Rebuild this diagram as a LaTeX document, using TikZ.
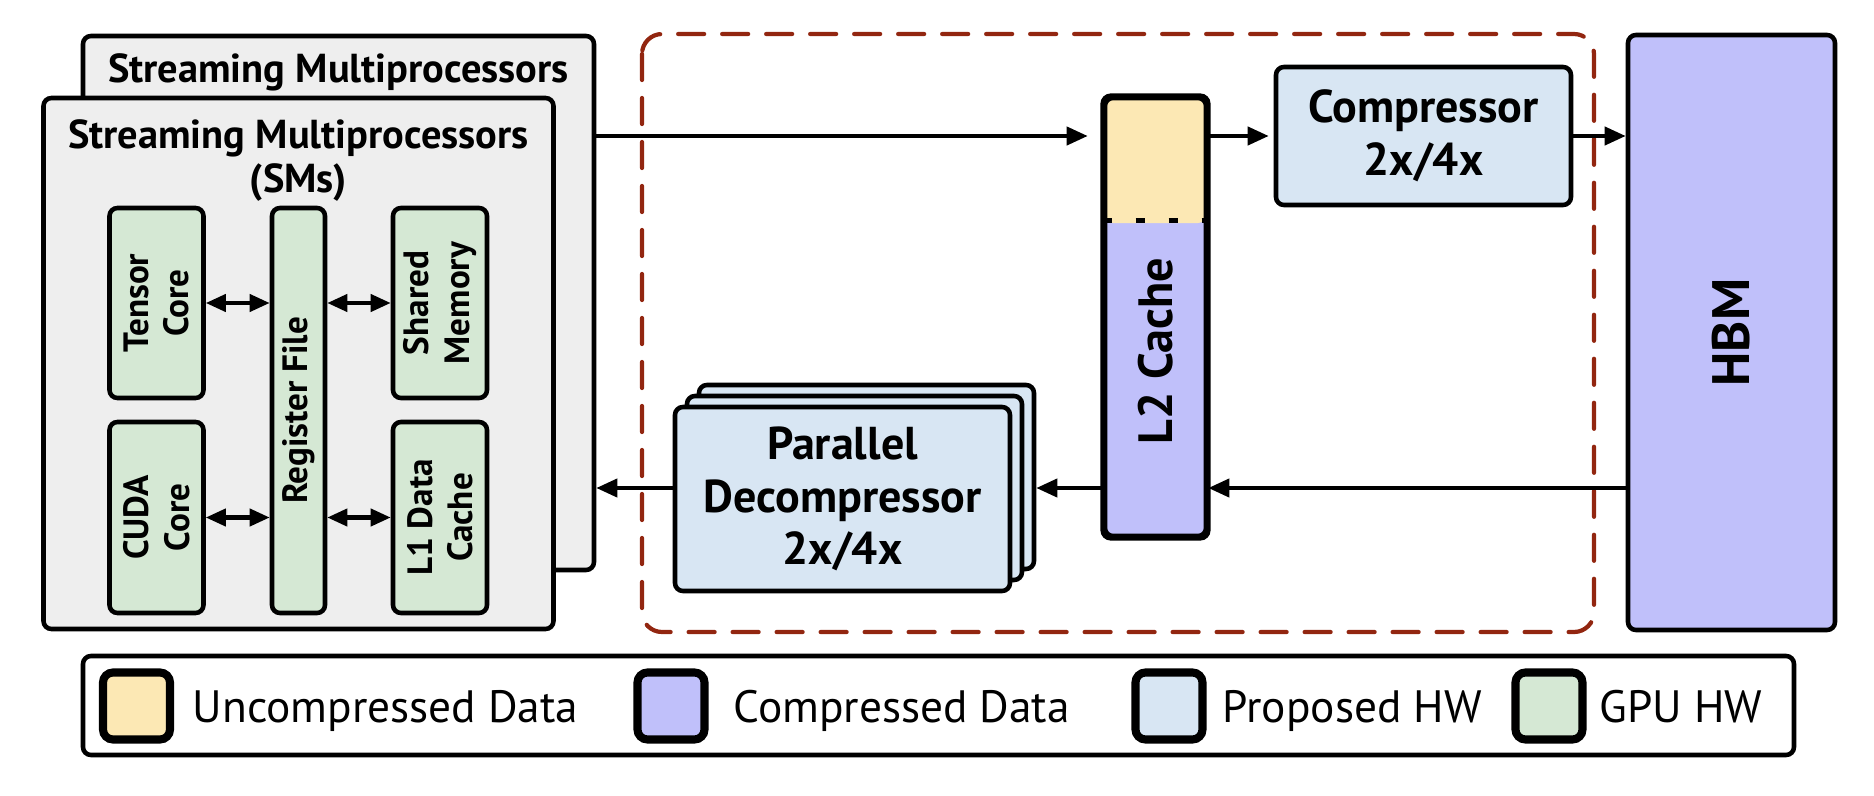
\documentclass[tikz,border=0pt]{standalone}
\usepackage{fontspec}
\setmainfont{PT Sans}
\usetikzlibrary{arrows.meta}
\definecolor{smgray}{RGB}{238,238,238}
\definecolor{gpugreen}{RGB}{213,232,212}
\definecolor{propblue}{RGB}{216,230,243}
\definecolor{uncompyellow}{RGB}{252,232,180}
\definecolor{comppurple}{RGB}{192,192,250}
\definecolor{framered}{RGB}{146,38,16}
\tikzset{
  hwbox/.style={draw, line width=1.3pt, rounded corners=0.8mm, inner sep=0pt, align=center},
  smbox/.style={hwbox, fill=smgray},
  gpuhw/.style={hwbox, fill=gpugreen},
  prophw/.style={hwbox, fill=propblue, font=\bfseries\fontsize{13.1}{15}\selectfont},
  compdata/.style={hwbox, fill=comppurple},
  smtitle/.style={inner sep=0pt, align=center, font=\bfseries\fontsize{11.5}{12.6}\selectfont},
  vlabel/.style={rotate=90, inner sep=0pt, align=center, font=\bfseries\fontsize{10}{11.5}\selectfont},
  swatch/.style={draw, line width=2.3pt, rounded corners=1mm, minimum size=6.7mm, inner sep=0pt},
  legendtext/.style={anchor=base west, inner sep=0pt, font=\fontsize{12.9}{15}\selectfont},
  link/.style={line width=1.15pt, -{Triangle[length=2.1mm,width=1.8mm]}},
  duplex/.style={line width=1.15pt, {Triangle[length=2mm,width=1.7mm]}-{Triangle[length=2mm,width=1.7mm]}},
  sectionframe/.style={draw=framered, line width=1.2pt, dash pattern=on 2.6mm off 1.8mm, line cap=round, rounded corners=2mm},
  splitline/.style={line width=1.3pt, dash pattern=on 0.9mm off 2.4mm}
}

\begin{document}
\begin{tikzpicture}[x=0.1mm, y=-0.1mm]
  \useasboundingbox (0,0) rectangle (1874,796);
  \draw[sectionframe] (642,34) rectangle (1594,632);

  \node[smbox, minimum width=51.1mm, minimum height=53.4mm] (smback) at (338.5,303) {};
  \node[smtitle, anchor=base] at (338.5,82) {Streaming Multiprocessors};
  \node[smbox, minimum width=51mm, minimum height=53.1mm] (smfront) at (298.5,363.5) {};
  \node[smtitle, anchor=north] at (298.5,119) {Streaming Multiprocessors\\(SMs)};

  \node[gpuhw, minimum width=9.4mm, minimum height=19mm] (tensor) at (156.5,303) {};
  \node[gpuhw, minimum width=5.3mm, minimum height=40.5mm] (regfile) at (298.5,410.5) {};
  \node[gpuhw, minimum width=9.4mm, minimum height=19mm] (shmem) at (440,303) {};
  \node[gpuhw, minimum width=9.4mm, minimum height=19.1mm] (cuda) at (156.5,517.5) {};
  \node[gpuhw, minimum width=9.4mm, minimum height=19.1mm] (lone) at (440,517.5) {};
  \node[vlabel] at (tensor) {Tensor\\Core};
  \node[vlabel] at (regfile) {Register File};
  \node[vlabel] at (shmem) {Shared\\Memory};
  \node[vlabel] at (cuda) {CUDA\\Core};
  \node[vlabel] at (lone) {L1 Data\\Cache};
  \draw[duplex] (tensor.east) -- (regfile.west |- tensor.east);
  \draw[duplex] (regfile.east |- shmem.west) -- (shmem.west);
  \draw[duplex] (cuda.east) -- (regfile.west |- cuda.east);
  \draw[duplex] (regfile.east |- lone.west) -- (lone.west);

  \node[compdata, minimum width=10.1mm, minimum height=43.8mm,
    path picture={\fill[uncompyellow] (path picture bounding box.north west) rectangle ([yshift=-12.5mm]path picture bounding box.north east);}] (ltwo) at (1155.5,317) {};
  \draw[splitline] ([yshift=-12.5mm]ltwo.north west) -- ([yshift=-12.5mm]ltwo.north east);
  \draw[line width=1.3pt, rounded corners=0.8mm] (ltwo.north west) rectangle (ltwo.south east);
  \node[vlabel, font=\bfseries\fontsize{13.7}{15}\selectfont] at (1155.5,351) {L2 Cache};

  \node[prophw, minimum width=29.5mm, minimum height=13.8mm] (comp) at (1423.5,136) {Compressor\\2x/4x};
  \node[compdata, minimum width=20.7mm, minimum height=59.5mm] (hbm) at (1731.5,332.5) {};
  \node[vlabel, font=\bfseries\fontsize{15}{18}\selectfont] at (hbm) {HBM};

  \node[prophw, minimum width=33.5mm, minimum height=18.4mm] (decthree) at (866.5,477) {};
  \node[prophw, minimum width=33.5mm, minimum height=18.4mm] (dectwo) at (854.5,488) {};
  \node[prophw, minimum width=33.5mm, minimum height=18.4mm] (decone) at (842.5,499) {Parallel\\Decompressor\\2x/4x};

  \draw[link, shorten >=1.5mm] (smback.east |- comp.west) -- (ltwo.west |- comp.west);
  \draw[link, shorten >=0.5mm] (ltwo.east |- comp.west) -- (comp.west);
  \draw[link] (comp.east) -- (hbm.west |- comp.east);
  \draw[link] (hbm.west |- dectwo.east) -- (ltwo.east |- dectwo.east);
  \draw[link] (ltwo.west |- dectwo.east) -- (decthree.east |- dectwo.east);
  \draw[link] (decone.west |- dectwo.east) -- (smback.east |- dectwo.east);

  \node[draw, line width=1.3pt, rounded corners=0.8mm, minimum width=171.1mm, minimum height=9.9mm] (legend) at (938.5,705.5) {};
  \node[swatch, fill=uncompyellow] (swone) at (136.5,706) {};
  \node[legendtext] at (192,722) {Uncompressed Data};
  \node[swatch, fill=comppurple] (swtwo) at (671,706) {};
  \node[legendtext] at (733,722) {Compressed Data};
  \node[swatch, fill=propblue] (swthree) at (1169,706) {};
  \node[legendtext] at (1222,722) {Proposed HW};
  \node[swatch, fill=gpugreen] (swfour) at (1549,706) {};
  \node[legendtext] at (1599,722) {GPU HW};
\end{tikzpicture}
\end{document}
